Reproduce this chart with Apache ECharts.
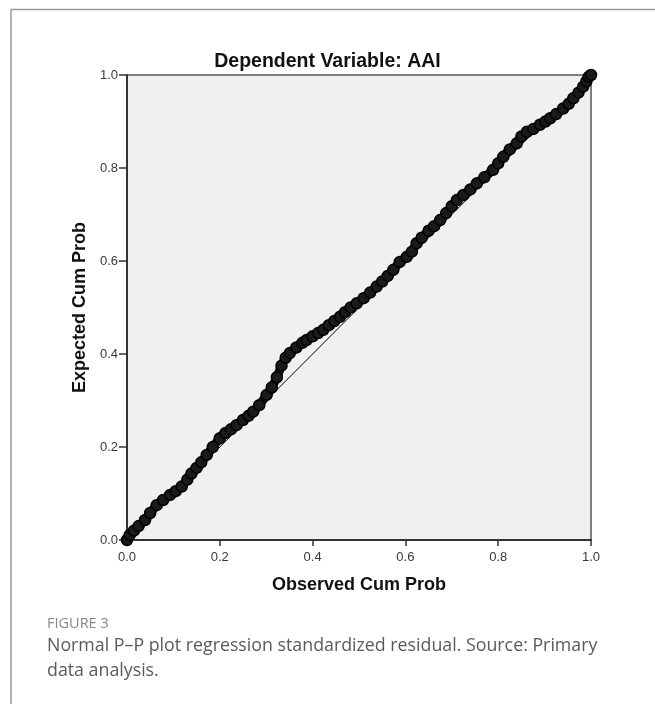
<!DOCTYPE html>
<html>
<head>
<meta charset="utf-8">
<script src="https://cdn.jsdelivr.net/npm/echarts@6/dist/echarts.min.js"></script>
<style>
html,body{margin:0;padding:0;background:#fff;}
#chart{width:655px;height:704px;}
</style>
</head>
<body>
<div id="chart"></div>
<script>
// Observed cumulative probability (x) and expected cumulative probability (y)
const observed = [0.000,0.006,0.015,0.025,0.039,0.050,0.064,0.078,0.093,0.105,0.118,0.130,0.139,0.150,0.160,0.172,0.185,0.200,0.212,0.224,0.236,0.250,0.262,0.272,0.285,0.301,0.312,0.323,0.333,0.342,0.351,0.365,0.378,0.387,0.400,0.412,0.423,0.435,0.447,0.459,0.470,0.482,0.495,0.510,0.524,0.538,0.550,0.562,0.574,0.588,0.603,0.614,0.624,0.635,0.650,0.662,0.675,0.688,0.700,0.711,0.725,0.740,0.754,0.770,0.789,0.800,0.811,0.825,0.840,0.850,0.862,0.876,0.890,0.902,0.912,0.925,0.940,0.952,0.962,0.973,0.983,0.990,0.995,1.000];
const expected = [0.000,0.011,0.020,0.030,0.043,0.058,0.075,0.086,0.097,0.105,0.115,0.130,0.143,0.155,0.167,0.183,0.200,0.219,0.230,0.238,0.247,0.258,0.267,0.276,0.290,0.312,0.328,0.350,0.375,0.392,0.402,0.414,0.424,0.430,0.438,0.445,0.452,0.462,0.471,0.480,0.490,0.500,0.509,0.520,0.532,0.545,0.556,0.568,0.581,0.598,0.609,0.620,0.638,0.650,0.665,0.675,0.688,0.703,0.718,0.731,0.742,0.754,0.767,0.780,0.796,0.810,0.824,0.840,0.853,0.868,0.878,0.884,0.893,0.900,0.907,0.916,0.928,0.938,0.950,0.962,0.975,0.986,0.996,1.000];
// Reference diagonal endpoints
const refLineX = [0, 1];
const refLineY = [0, 1];
const tickValues = [0.0, 0.2, 0.4, 0.6, 0.8, 1.0];

const titleText = 'Dependent Variable: AAI';
const xName = 'Observed Cum Prob';
const yName = 'Expected Cum Prob';
const captionHead = 'FIGURE 3';
const captionLines = ['Normal P\u2013P plot regression standardized residual. Source: Primary', 'data analysis.'];

const points = observed.map((x, i) => [x, expected[i]]);
const refLine = refLineX.map((x, i) => [x, refLineY[i]]);

const chart = echarts.init(document.getElementById('chart'), null, {renderer: 'canvas'});
const axisCommon = {
  type: 'value', min: 0, max: 1, interval: 0.2,
  splitLine: {show: false},
  axisLine: {show: true, lineStyle: {color: '#333', width: 2}},
  axisTick: {show: true, length: 6, lineStyle: {color: '#333', width: 1.5}},
  axisLabel: {color: '#3a3a3a', fontSize: 13, fontFamily: 'Liberation Sans', formatter: v => v.toFixed(1)},
  nameTextStyle: {color: '#111', fontSize: 18, fontWeight: 'bold', fontFamily: 'Liberation Sans'},
  nameLocation: 'middle'
};
chart.setOption({
  backgroundColor: '#fff',
  animation: false,
  title: {
    text: titleText, left: 'center', top: 47,
    textStyle: {fontSize: 19.5, fontWeight: 'bold', color: '#111', fontFamily: 'Liberation Sans'}
  },
  grid: {left: 127, top: 75, width: 464, height: 465, show: true, backgroundColor: '#f0f0f0', borderColor: '#555', borderWidth: 1.5},
  xAxis: Object.assign({}, axisCommon, {
    name: xName, nameGap: 36,
    axisTick: {show: true, length: 6, lineStyle: {color: '#333', width: 1.5}},
    axisLabel: Object.assign({}, axisCommon.axisLabel, {margin: 11})
  }),
  yAxis: Object.assign({}, axisCommon, {
    name: yName, nameGap: 38, nameRotate: 90,
    axisTick: {show: true, length: 8, lineStyle: {color: '#333', width: 1.5}},
    axisLabel: Object.assign({}, axisCommon.axisLabel, {margin: 9})
  }),
  series: [
    {
      type: 'line', data: refLine, symbol: 'none', z: 1,
      lineStyle: {color: '#000', width: 1}
    },
    {
      type: 'line', data: points, symbol: 'none', z: 2, smooth: 0.3,
      lineStyle: {color: '#111', width: 9, cap: 'round', join: 'round'}
    },
    {
      type: 'scatter', data: points, symbol: 'circle', symbolSize: 11, z: 3,
      itemStyle: {color: '#1a1a1a', borderColor: '#000', borderWidth: 1.5, opacity: 1}
    }
  ],
  graphic: [
    {type: 'line', shape: {x1: 11, y1: 9.5, x2: 655, y2: 9.5}, style: {stroke: '#999', lineWidth: 1.5}},
    {type: 'line', shape: {x1: 11, y1: 9.5, x2: 11, y2: 704}, style: {stroke: '#999', lineWidth: 1.5}},
    {type: 'text', left: 47, top: 616, style: {text: captionHead, fill: '#888', font: '14.5px "Open Sans"'}},
    {type: 'text', left: 47, top: 637, style: {text: captionLines[0], fill: '#5a5a5a', font: '17.8px "Open Sans"'}},
    {type: 'text', left: 47, top: 662, style: {text: captionLines[1], fill: '#5a5a5a', font: '17.8px "Open Sans"'}}
  ]
});
</script>
</body>
</html>
